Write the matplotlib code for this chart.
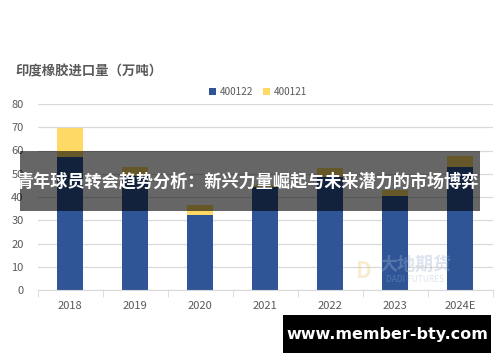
import matplotlib
matplotlib.use("Agg")
import matplotlib.pyplot as plt
from matplotlib.patches import Rectangle
import numpy as np

plt.rcParams['font.family'] = ['Noto Sans CJK SC', 'DejaVu Sans']

categories = ["2018", "2019", "2020", "2021", "2022", "2023", "2024E"]
s400122 = [57.3, 49.0, 32.3, 44.5, 48.5, 40.5, 52.8]
s400121 = [12.2, 4.0, 4.3, 0.8, 3.8, 2.5, 4.8]
series_names = ["400122", "400121"]
yticks = [0, 10, 20, 30, 40, 50, 60, 70, 80]
title = "印度橡胶进口量（万吨）"
banner = "青年球员转会趋势分析：新兴力量崛起与未来潜力的市场博弈"
site = "www.member-bty.com"

W, H = 500, 362
fig = plt.figure(figsize=(W / 100, H / 100), dpi=100)
ax = fig.add_axes([37.5 / W, 1 - 290 / H, 455 / W, (290 - 104) / H])

blue = "#2f5597"
yellow = "#ffd966"
x = np.arange(len(categories))
ax.bar(x, s400122, width=0.385, color=blue, label=series_names[0], zorder=2)
ax.bar(x, s400121, width=0.385, bottom=s400122, color=yellow, label=series_names[1], zorder=2)

ax.set_xlim(-0.5, len(categories) - 0.5)
ax.set_ylim(0, 80)
ax.set_yticks(yticks)
ax.grid(axis='y', color='#d9d9d9', lw=0.9, zorder=0)
for s in ['top', 'right', 'left']:
    ax.spines[s].set_visible(False)
ax.spines['bottom'].set_color('#d9d9d9')
ax.tick_params(axis='y', length=0, labelsize=8, labelcolor='#595959', pad=10)
ax.set_xticks(x)
ax.set_xticklabels(categories)
ax.tick_params(axis='x', length=0, labelsize=8, labelcolor='#595959', pad=8)
ax.set_xticks(np.arange(-0.5, len(categories)), minor=True)
ax.tick_params(axis='x', which='minor', length=5, color='#d9d9d9')

fig.text(15 / W, 1 - 71 / H, title, fontsize=9.6, fontweight='bold', color='#595959',
         va='center', ha='left')

leg = ax.legend(loc='center', bbox_to_anchor=((258 - 37.5) / 455, (290 - 92) / 186),
                ncol=2, frameon=False, fontsize=7.2, handlelength=0.7, handleheight=0.7,
                columnspacing=1.0, handletextpad=0.4, labelcolor='#595959')

# watermark
fig.text(415 / W, 1 - 264 / H, "大地期货", fontsize=13, fontweight='bold', color='#9fb3d1',
         alpha=0.35, ha='center', va='center')
fig.text(415 / W, 1 - 280 / H, "DADI FUTURES", fontsize=6, color='#9fb3d1',
         alpha=0.35, ha='center', va='center')
fig.text(364 / W, 1 - 271 / H, "D", fontsize=16, fontweight='bold', color='#e8c66a',
         alpha=0.3, ha='center', va='center')

# banner overlay
fig.patches.append(Rectangle((20 / W, 1 - 211 / H), 460 / W, 60 / H, transform=fig.transFigure,
                             facecolor='black', alpha=0.6, zorder=10))
fig.text(247 / W, 1 - 181 / H, banner, fontsize=12.3, fontweight='bold', color='white',
         ha='center', va='center', zorder=11)

# bottom-right box
fig.patches.append(Rectangle((283 / W, 1 - 353 / H), 208 / W, 38 / H, transform=fig.transFigure,
                             facecolor='black', zorder=10))
fig.text(387 / W, 1 - 334 / H, site, fontsize=11.5, fontweight='bold', color='white',
         ha='center', va='center', zorder=11, family=['DejaVu Sans'])

fig.savefig("out.png", dpi=100)
